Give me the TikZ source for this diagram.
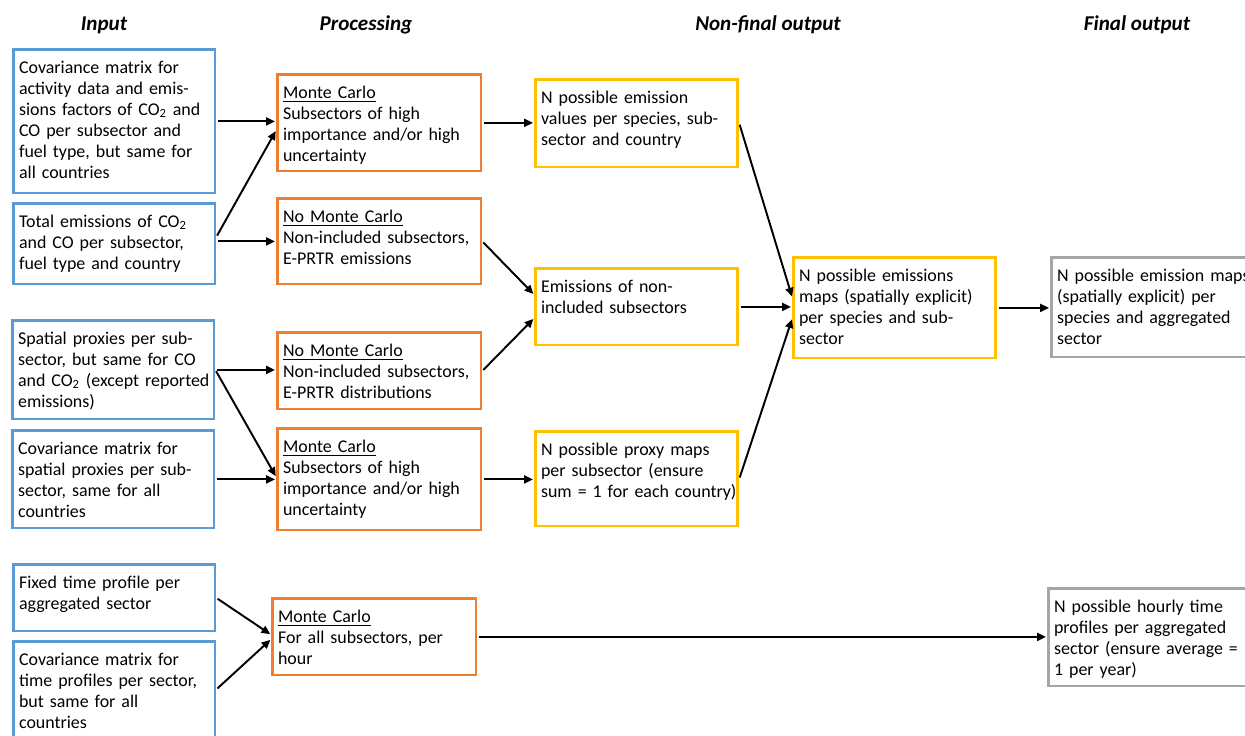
\documentclass[tikz,border=0pt]{standalone}
\usepackage{fontspec}
\setmainfont{Carlito}
\usetikzlibrary{calc,arrows.meta}

\definecolor{inblue}{RGB}{91,155,213}
\definecolor{procorange}{RGB}{237,125,49}
\definecolor{outgold}{RGB}{255,192,0}
\definecolor{finalgray}{RGB}{165,165,165}

\newcommand{\COtwo}{CO\textsubscript{2}}

\begin{document}
\begin{tikzpicture}[x=0.02cm,y=-0.02cm,
    box/.style={draw,line width=1.6pt,anchor=north west,align=left,
      text height=8pt,inner xsep=3pt,inner ysep=5.4pt,
      font=\fontsize{10.2}{11.95}\selectfont},
    inbox/.style={box,draw=inblue,text width=108.5pt},
    procbox/.style={box,draw=procorange,text width=109.6pt},
    midbox/.style={box,draw=outgold,text width=109pt},
    finbox/.style={box,draw=finalgray,text width=111.9pt},
    head/.style={anchor=base,font=\fontsize{12}{14}\selectfont\bfseries\itshape},
    link/.style={-{Triangle[length=5pt,width=4.5pt]},line width=1.1pt,
      shorten >=0.8pt,shorten <=0.8pt}]
  \useasboundingbox (0,0) rectangle (1245,735);

  % column titles
  \node[head] (hin) at (104,30) {Input};
  \node[head] (hproc) at (366,30) {Processing};
  \node[head] (hmid) at (768,30) {Non-final output};
  \node[head] (hfin) at (1137,30) {Final output};

  % input column
  \node[inbox,text depth=62.7pt] (in1) at (12.4,48.4)
    {Covariance matrix for\\activity data and emis-\\sions factors of \COtwo{} and\\CO per subsector and\\fuel type, but same for\\all countries};
  \node[inbox,text depth=26.8pt] (in2) at (12.4,202.4)
    {Total emissions of \COtwo\\and CO per subsector,\\fuel type and country};
  \node[inbox,text depth=37.1pt] (in3) at (11.4,319.4)
    {Spatial proxies per sub-\\sector, but same for CO\\\mbox{and \COtwo{} (except reported}\\emissions)};
  \node[inbox,text depth=36.5pt] (in4) at (11.4,429.4)
    {Covariance matrix for\\spatial proxies per sub-\\sector, same for all\\countries};
  \node[inbox,text depth=18.9pt] (in5) at (12.4,563.4)
    {Fixed time profile per\\aggregated sector};
  \node[inbox,text depth=39.9pt] (in6) at (12.4,640.4)
    {Covariance matrix for\\time profiles per sector,\\but same for all\\countries};

  % processing column
  \node[procbox,text depth=35.9pt] (mc1) at (276.4,73.4)
    {\underline{Monte Carlo}\\Subsectors of high\\importance and/or high\\uncertainty};
  \node[procbox,text depth=29.7pt] (nmc1) at (276.4,197.4)
    {\underline{No Monte Carlo}\\Non-included subsectors,\\E-PRTR emissions};
  \node[procbox,text depth=24.6pt] (nmc2) at (276.4,331.4)
    {\underline{No Monte Carlo}\\Non-included subsectors,\\E-PRTR distributions};
  \node[procbox,text depth=38.8pt] (mc2) at (276.4,427.4)
    {\underline{Monte Carlo}\\Subsectors of high\\importance and/or high\\uncertainty};
  \node[procbox,text depth=24.6pt] (mc3) at (271.4,597.4)
    {\underline{Monte Carlo}\\For all subsectors, per\\hour};

  % non-final output
  \node[midbox,text depth=30.8pt] (values) at (534.4,78.4)
    {N possible emission\\values per species, sub-\\sector and country};
  \node[midbox,text depth=24.6pt] (nonincl) at (534.4,267.4)
    {Emissions of non-\\included subsectors};
  \node[midbox,text depth=38.2pt] (maps) at (792.4,256.4)
    {N possible emissions\\maps (spatially explicit)\\per species and sub-\\sector};
  \node[midbox,text depth=34.8pt] (proxy) at (534.4,430.4)
    {N possible proxy maps\\per subsector (ensure\\\mbox{sum = 1 for each country)}};

  % final output
  \node[finbox,text depth=37.6pt] (finmaps) at (1050.4,256.4)
    {\mbox{N possible emission maps}\\(spatially explicit) per\\species and aggregated\\sector};
  \node[finbox,text depth=36.5pt] (profiles) at (1047.4,587.4)
    {N possible hourly time\\profiles per aggregated\\\mbox{sector (ensure average =}\\1 per year)};

  % connectors
  \draw[link] (in1.east) -- (in1.east -| mc1.west);
  \draw[link] ($(in2.east)+(0,-7)$) -- ($(mc1.west)+(0,7)$);
  \draw[link] (nmc1.west -| in2.east) -- (nmc1.west);
  \draw[link] (in3.east) -- (in3.east -| nmc2.west);
  \draw[link] (in3.east) -- ($(mc2.west)+(0,-2)$);
  \draw[link] (in4.east) -- (in4.east -| mc2.west);
  \draw[link] (in5.east) -- ($(mc3.west)+(0,-2)$);
  \draw[link] ($(in6.east)+(0,-4)$) -- ($(mc3.west)+(0,2)$);

  \draw[link] (mc1.east) -- (mc1.east -| values.west);
  \draw[link] (nmc1.east) -- ($(nonincl.west)+(0,-12)$);
  \draw[link] (nmc2.east) -- ($(nonincl.west)+(0,11)$);
  \draw[link] (mc2.east) -- (mc2.east -| proxy.west);
  \draw[link] (mc3.east) -- (mc3.east -| profiles.west);

  \draw[link] (values.east) -- ($(maps.west)+(0,-10)$);
  \draw[link] (nonincl.east) -- (nonincl.east -| maps.west);
  \draw[link] (proxy.east) -- ($(maps.west)+(0,10)$);
  \draw[link] (maps.east) -- (maps.east -| finmaps.west);
\end{tikzpicture}
\end{document}
